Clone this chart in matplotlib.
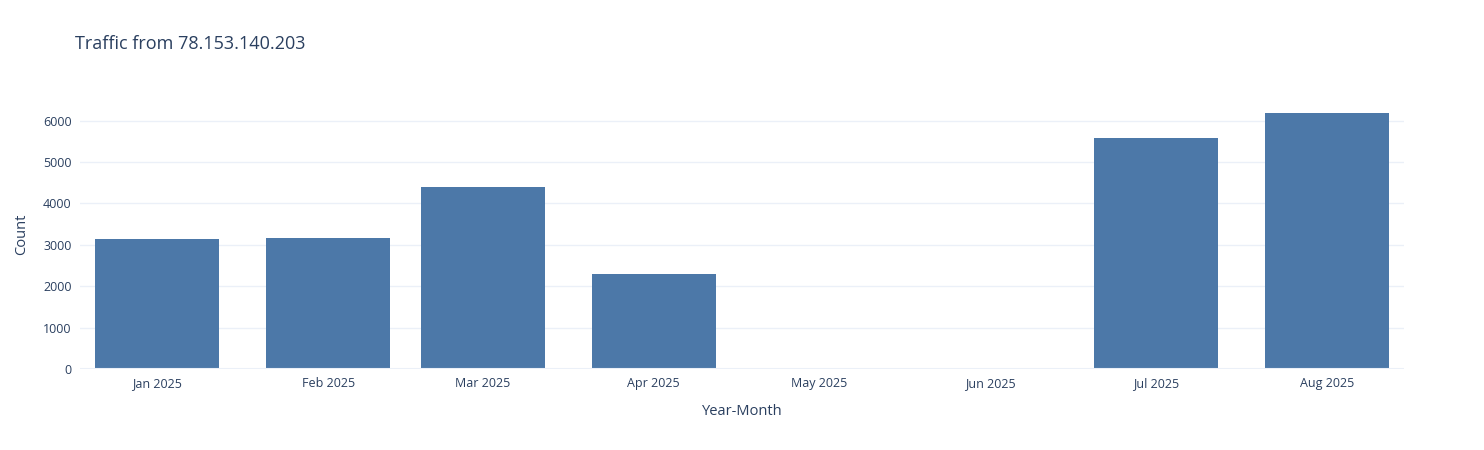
import numpy as np
import matplotlib as mpl
mpl.use('Agg')
from matplotlib import pyplot as plt

months = ['2025-01', '2025-02', '2025-03', '2025-04', '2025-05', '2025-06', '2025-07', '2025-08']
labels = ['Jan 2025', 'Feb 2025', 'Mar 2025', 'Apr 2025', 'May 2025', 'Jun 2025', 'Jul 2025', 'Aug 2025']
counts = [3140, 3160, 4390, 2290, 0, 0, 5580, 6180]

txt = '#2a3f5f'
plt.rcParams['font.family'] = ['Open Sans', 'DejaVu Sans']

# day offsets from Jan 1 (date axis like plotly)
days = (np.array(months, dtype='datetime64[M]').astype('datetime64[D]')
        - np.datetime64('2025-01-01')).astype(float)

fig = plt.figure(figsize=(14.84, 4.5), dpi=100)
ax = fig.add_axes([80/1484, 1-369/450, 1324/1484, 269/450])
ax.bar(days, counts, width=28*0.8, color='#4C78A8', zorder=3)

ax.set_xlim(-14, 226)
ax.set_ylim(0, 6500)
ax.set_xticks(days)
ax.set_xticklabels(labels)
ax.set_yticks(range(0, 7000, 1000))
ax.grid(axis='y', color='#EBF0F8', linewidth=1, zorder=0)
ax.axhline(0, color='#EBF0F8', linewidth=1.5, zorder=4)
for s in ax.spines.values():
    s.set_visible(False)
ax.tick_params(length=0, colors=txt, labelsize=9, pad=6)
ax.set_xlabel('Year-Month', color=txt, fontsize=10.5, labelpad=10)
ax.set_ylabel('Count', color=txt, fontsize=10.5, labelpad=10)
fig.text(75/1484, 1-44/450, 'Traffic from 78.153.140.203', color=txt,
         fontsize=13, va='center', ha='left')

fig.savefig('out.png', dpi=100)
